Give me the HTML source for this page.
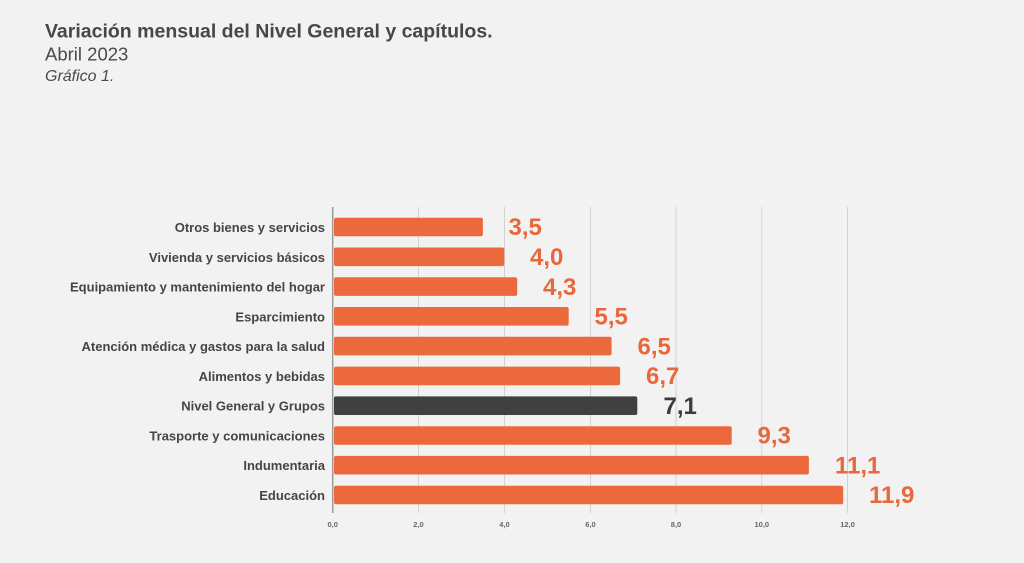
<!DOCTYPE html>
<html><head><meta charset="utf-8"><style>
html,body{margin:0;padding:0;background:#f2f2f2;}
svg{display:block;}
text{font-family:"Liberation Sans",Arial,sans-serif;}
</style></head><body>
<svg width="1024" height="563" viewBox="0 0 1024 563" xmlns="http://www.w3.org/2000/svg">
<rect width="1024" height="563" fill="#f2f2f2"/>
<text x="45" y="37.5" font-size="19.5" font-weight="bold" fill="#474747">Variación mensual del Nivel General y capítulos.</text>
<text x="45" y="60.5" font-size="18.5" fill="#4a4a4a">Abril 2023</text>
<text x="45" y="81" font-size="16" font-style="italic" fill="#4a4a4a">Gráfico 1.</text>

<g stroke="#d2d2d2" stroke-width="1">
<line x1="418.5" y1="207" x2="418.5" y2="513"/>
<line x1="504.5" y1="207" x2="504.5" y2="513"/>
<line x1="590.5" y1="207" x2="590.5" y2="513"/>
<line x1="676" y1="207" x2="676" y2="513"/>
<line x1="761.8" y1="207" x2="761.8" y2="513"/>
<line x1="847.5" y1="207" x2="847.5" y2="513"/>
</g>
<line x1="332.7" y1="207" x2="332.7" y2="513" stroke="#9a9a9a" stroke-width="1.5"/>

<g fill="#ec693d">
<rect x="334" y="217.7" width="148.9" height="18.6" rx="2"/>
<rect x="334" y="247.5" width="170.3" height="18.6" rx="2"/>
<rect x="334" y="277.3" width="183.2" height="18.6" rx="2"/>
<rect x="334" y="307" width="234.7" height="18.6" rx="2"/>
<rect x="334" y="336.8" width="277.6" height="18.6" rx="2"/>
<rect x="334" y="366.6" width="286.1" height="18.6" rx="2"/>
<rect x="334" y="426.2" width="397.7" height="18.6" rx="2"/>
<rect x="334" y="455.9" width="474.9" height="18.6" rx="2"/>
<rect x="334" y="485.7" width="509.2" height="18.6" rx="2"/>
</g>
<rect x="334" y="396.4" width="303.3" height="18.6" rx="2" fill="#404040"/>

<g font-size="13" font-weight="bold" fill="#454545" text-anchor="end">
<text x="325" y="232">Otros bienes y servicios</text>
<text x="325" y="261.8">Vivienda y servicios básicos</text>
<text x="325" y="291.6">Equipamiento y mantenimiento del hogar</text>
<text x="325" y="321.3">Esparcimiento</text>
<text x="325" y="351.1">Atención médica y gastos para la salud</text>
<text x="325" y="380.9">Alimentos y bebidas</text>
<text x="325" y="410.7">Nivel General y Grupos</text>
<text x="325" y="440.5">Trasporte y comunicaciones</text>
<text x="325" y="470.2">Indumentaria</text>
<text x="325" y="500">Educación</text>
</g>

<g font-size="24" font-weight="bold" fill="#e8683c">
<text x="508.5" y="235.2">3,5</text>
<text x="530" y="265">4,0</text>
<text x="543" y="294.8">4,3</text>
<text x="594.5" y="324.5">5,5</text>
<text x="637.5" y="354.3">6,5</text>
<text x="646" y="384.1">6,7</text>
<text x="757.5" y="443.7">9,3</text>
<text x="835" y="473.4">11,1</text>
<text x="869" y="503.2">11,9</text>
</g>
<text x="663.5" y="413.9" font-size="24" font-weight="bold" fill="#3c3c3c">7,1</text>

<g font-size="7.5" font-weight="bold" fill="#666" text-anchor="middle">
<text x="332.7" y="527">0,0</text>
<text x="418.5" y="527">2,0</text>
<text x="504.5" y="527">4,0</text>
<text x="590.5" y="527">6,0</text>
<text x="676" y="527">8,0</text>
<text x="761.8" y="527">10,0</text>
<text x="847.5" y="527">12,0</text>
</g>
</svg>
</body></html>
